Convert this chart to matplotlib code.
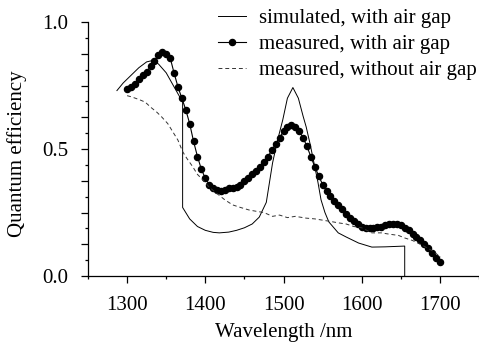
import numpy as np
import matplotlib
matplotlib.use('Agg')
import matplotlib.pyplot as plt
from matplotlib.ticker import MultipleLocator, FixedLocator

# Dados lidos do gráfico
# simulado, com gap de ar
wl_sim = [1287, 1295, 1305, 1315, 1325, 1332, 1340, 1350, 1360, 1371,
          1371, 1380, 1390, 1400, 1410, 1418, 1430, 1440, 1450, 1460,
          1469, 1478, 1486, 1492, 1499, 1505, 1512, 1519, 1525, 1529,
          1534, 1539, 1544, 1548, 1553, 1558, 1570, 1580, 1596, 1613,
          1630, 1655, 1655]
qe_sim = [0.73, 0.76, 0.79, 0.82, 0.843, 0.848, 0.835, 0.80, 0.745, 0.685,
          0.27, 0.225, 0.195, 0.18, 0.172, 0.17, 0.173, 0.18, 0.19, 0.205,
          0.232, 0.29, 0.445, 0.53, 0.614, 0.70, 0.742, 0.70, 0.63, 0.587,
          0.52, 0.445, 0.37, 0.30, 0.25, 0.213, 0.17, 0.154, 0.13, 0.114,
          0.115, 0.118, 0.0]

# medido, com gap de ar (passo de 5 nm)
wl_gap = list(range(1300, 1705, 5))
qe_gap = [0.735, 0.745, 0.755, 0.775, 0.79, 0.805, 0.825, 0.845, 0.87, 0.88,
          0.875, 0.86, 0.80, 0.745, 0.70, 0.655, 0.60, 0.53, 0.47, 0.42,
          0.385, 0.36, 0.345, 0.34, 0.335, 0.34, 0.345, 0.345, 0.35, 0.36,
          0.375, 0.385, 0.40, 0.415, 0.43, 0.45, 0.47, 0.495, 0.52, 0.545,
          0.57, 0.585, 0.595, 0.585, 0.57, 0.545, 0.51, 0.47, 0.43, 0.395,
          0.36, 0.335, 0.315, 0.295, 0.28, 0.265, 0.245, 0.23, 0.215, 0.205,
          0.195, 0.19, 0.19, 0.19, 0.195, 0.195, 0.20, 0.205, 0.205, 0.205,
          0.20, 0.19, 0.18, 0.165, 0.155, 0.14, 0.125, 0.11, 0.09, 0.07,
          0.055]

# medido, sem gap de ar
wl_nogap = [1300, 1306, 1315, 1323, 1330, 1338, 1344, 1352, 1358, 1365,
            1371, 1376, 1384, 1390, 1397, 1405, 1414, 1425, 1435, 1445,
            1456, 1465, 1475, 1486, 1495, 1505, 1515, 1529, 1540, 1550,
            1560, 1571, 1580, 1590, 1600, 1613, 1625, 1635, 1647, 1655,
            1665, 1677, 1690, 1701]
qe_nogap = [0.71, 0.705, 0.695, 0.685, 0.665, 0.645, 0.627, 0.60, 0.57, 0.535,
            0.49, 0.465, 0.43, 0.40, 0.378, 0.35, 0.327, 0.30, 0.28, 0.27,
            0.26, 0.255, 0.25, 0.235, 0.24, 0.23, 0.235, 0.228, 0.225, 0.22,
            0.215, 0.209, 0.205, 0.195, 0.19, 0.17, 0.17, 0.165, 0.16, 0.15,
            0.14, 0.122, 0.10, 0.075]

y_labels = ['0.0', '', '', '', '0.5', '', '', '', '1.0']

plt.rcParams['font.family'] = ['Liberation Serif', 'DejaVu Serif']
plt.rcParams['font.size'] = 15

fig = plt.figure(figsize=(4.79, 3.49), dpi=100)
ax = fig.add_axes([88 / 479, 0.209, 1 - 88 / 479, 0.728])

ax.plot(wl_sim, qe_sim, color='black', lw=0.7, label='simulated, with air gap')
ax.plot(wl_gap, qe_gap, color='black', lw=0.8, marker='o', ms=4.4,
        label='measured, with air gap')
ax.plot(wl_nogap, qe_nogap, color='#333333', lw=0.7, linestyle=(0, (4, 3)),
        label='measured, without air gap')

ax.set_xlim(1250, 1750)
ax.set_ylim(0, 1.0)
ax.xaxis.set_major_locator(FixedLocator([1300, 1400, 1500, 1600, 1700]))
ax.xaxis.set_minor_locator(MultipleLocator(50))
ax.yaxis.set_major_locator(FixedLocator(np.linspace(0, 1, 9)))
ax.set_yticklabels(y_labels)
ax.yaxis.set_minor_locator(MultipleLocator(0.0625))

ax.spines['top'].set_visible(False)
ax.spines['right'].set_visible(False)
for s in ('left', 'bottom'):
    ax.spines[s].set_linewidth(0.9)
ax.tick_params(which='major', direction='out', length=5, width=0.9, pad=9)
ax.tick_params(which='minor', direction='out', length=2.5, width=0.9)

ax.set_xlabel('Wavelength /nm')
ax.set_ylabel('Quantum efficiency')
ax.xaxis.set_label_coords(0.5, -0.185)
ax.yaxis.set_label_coords(-0.155, 0.48)

ax.legend(loc='upper right', bbox_to_anchor=(1.015, 1.085), frameon=False,
          handlelength=1.35, handletextpad=0.6, labelspacing=0.3,
          borderaxespad=0.0)

fig.savefig('out.png', dpi=100)
